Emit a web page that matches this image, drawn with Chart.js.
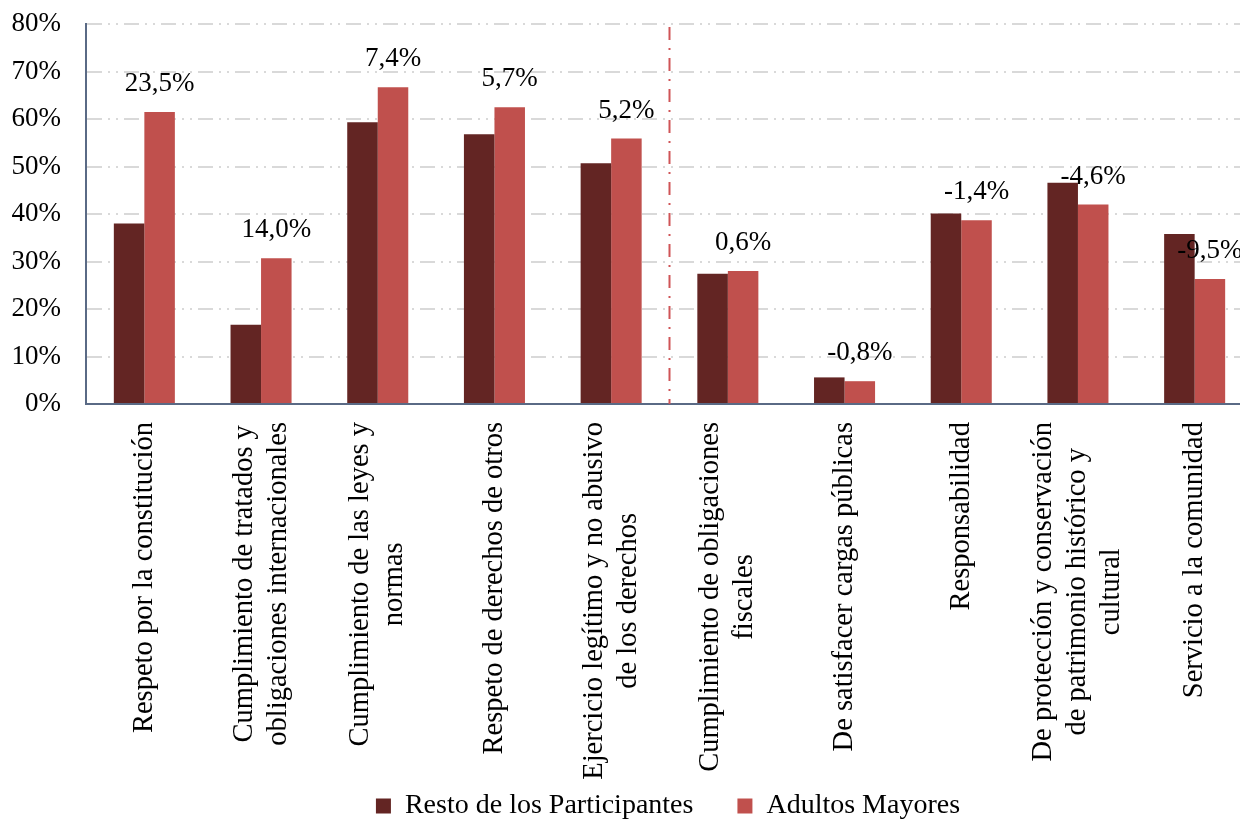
<!DOCTYPE html>
<html>
<head>
<meta charset="utf-8">
<script src="https://cdn.jsdelivr.net/npm/chart.js@4.4.1/dist/chart.umd.min.js"></script>
<style>
  html, body { margin: 0; padding: 0; background: #fff; overflow: hidden; }
  #wrap { width: 1240px; height: 821px; overflow: hidden; }
</style>
</head>
<body>
<div id="wrap"><canvas id="myChart" width="1336" height="830"></canvas></div>
<script>
// categorias (una linea por elemento)
const categorias = [
  ["Respeto por la constitución"],
  ["Cumplimiento de tratados y", "obligaciones internacionales"],
  ["Cumplimiento de las leyes y", "normas"],
  ["Respeto de derechos de otros"],
  ["Ejercicio legítimo y no abusivo", "de los derechos"],
  ["Cumplimiento de obligaciones", "fiscales"],
  ["De satisfacer cargas públicas"],
  ["Responsabilidad"],
  ["De protección y conservación", "de patrimonio histórico y", "cultural"],
  ["Servicio a la comunidad"]
];
const resto = [38.0, 16.7, 59.3, 56.8, 50.7, 27.4, 5.6, 40.1, 46.6, 35.8];
const adultos = [61.5, 30.7, 66.7, 62.5, 55.9, 28.0, 4.8, 38.7, 42.0, 26.3];
const diferencias = [23.5, 14.0, 7.4, 5.7, 5.2, 0.6, -0.8, -1.4, -4.6, -9.5];

const fuente = "'Liberation Serif', 'Times New Roman', serif";
const colorEje = '#5a6a85';

// linea punteada roja entre los dos grupos
const lineaDivisoria = {
  id: 'lineaDivisoria',
  beforeDatasetsDraw(chart) {
    const { ctx, chartArea, scales: { x } } = chart;
    const px = (x.getPixelForValue(4) + x.getPixelForValue(5)) / 2;
    ctx.save();
    ctx.strokeStyle = '#CF5457';
    ctx.lineWidth = 2;
    ctx.setLineDash([13, 8, 2, 8]);
    ctx.beginPath();
    ctx.moveTo(px, chartArea.top + 3);
    ctx.lineTo(px, chartArea.bottom);
    ctx.stroke();
    ctx.restore();
  }
};

// diferencias sobre la barra de Adultos Mayores
const etiquetasDiferencia = {
  id: 'etiquetasDiferencia',
  afterDatasetsDraw(chart) {
    const { ctx } = chart;
    const meta = chart.getDatasetMeta(1);
    ctx.save();
    ctx.font = '27px ' + fuente;
    ctx.fillStyle = '#000';
    ctx.textAlign = 'center';
    ctx.textBaseline = 'middle';
    meta.data.forEach((bar, i) => {
      ctx.fillText(diferencias[i].toFixed(1).replace('.', ',') + '%', bar.x, bar.y - 28);
    });
    ctx.restore();
  }
};

// etiquetas verticales, lineas centradas entre si
const etiquetasCategorias = {
  id: 'etiquetasCategorias',
  afterDraw(chart) {
    const { ctx, scales: { x } } = chart;
    ctx.save();
    ctx.font = '28.5px ' + fuente;
    ctx.fillStyle = '#000';
    ctx.textAlign = 'center';
    ctx.textBaseline = 'middle';
    categorias.forEach((lineas, i) => {
      const cx = x.getPixelForValue(i);
      const ancho = Math.max(...lineas.map(l => ctx.measureText(l).width));
      ctx.save();
      ctx.translate(cx, x.top + 18);
      ctx.rotate(-Math.PI / 2);
      lineas.forEach((l, j) => {
        ctx.fillText(l, -ancho / 2, (j - (lineas.length - 1) / 2) * 34);
      });
      ctx.restore();
    });
    ctx.restore();
  }
};

const ctx = document.getElementById('myChart');

const myChart = new Chart(ctx, {
  type: 'bar',
  plugins: [lineaDivisoria, etiquetasDiferencia, etiquetasCategorias],
  data: {
    labels: categorias,
    datasets: [
      {
        label: 'Resto de los Participantes',
        data: resto,
        backgroundColor: '#632523',
        categoryPercentage: 0.523,
        barPercentage: 1,
      },
      {
        label: 'Adultos Mayores',
        data: adultos,
        backgroundColor: '#C0504D',
        categoryPercentage: 0.523,
        barPercentage: 1,
      },
    ],
  },
  options: {
    responsive: false,
    animation: false,
    devicePixelRatio: 1,
    layout: {
      padding: { top: 24, left: 0, right: 0, bottom: 0 }
    },
    plugins: {
      tooltip: { enabled: false },
      legend: {
        position: 'bottom',
        labels: {
          font: { family: fuente, size: 28 },
          color: '#000',
          boxWidth: 15,
          boxHeight: 15,
          padding: 44,
        }
      },
    },
    scales: {
      x: {
        grid: { display: false },
        border: { color: colorEje, width: 2 },
        ticks: { display: false },
        afterFit: (s) => { s.height = 344; },
      },
      y: {
        min: 0,
        max: 80,
        ticks: {
          stepSize: 10,
          callback: (v) => v + '%',
          font: { family: fuente, size: 27 },
          color: '#000',
          padding: 25,
        },
        grid: { color: '#d9d9d9', lineWidth: 2, drawTicks: false },
        border: { color: colorEje, width: 2, dash: [15, 6, 2, 6, 2, 6] },
        afterFit: (s) => {
          s.width = 86;
          s.paddingTop = 0;
          s.paddingBottom = 0;
        },
      },
      yDer: {
        position: 'right',
        grid: { display: false },
        border: { display: false },
        ticks: { display: false },
        afterFit: (s) => { s.width = 83; },
      },
    },
  },
});
</script>
</body>
</html>
